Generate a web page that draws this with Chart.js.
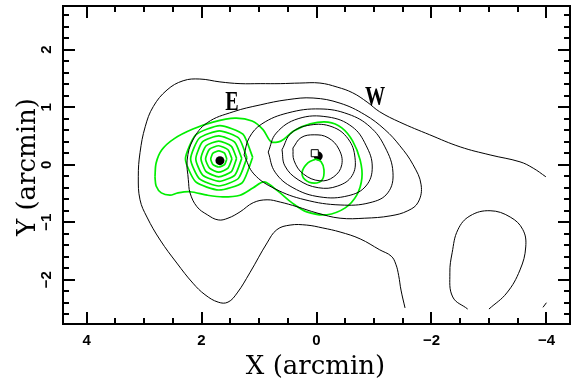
<!DOCTYPE html>
<html>
<head>
<meta charset="utf-8">
<script src="https://cdn.jsdelivr.net/npm/chart.js@4/dist/chart.umd.min.js"></script>
<style>
  html, body { margin: 0; padding: 0; background: #fff; }
  canvas { display: block; }
</style>
</head>
<body>
<canvas id="c" width="579" height="386"></canvas>
<script>
// Axis ranges and labelled ticks (arcmin)
const xRange = [-4.41, 4.41];
const yRange = [-2.77, 2.76];
const xTickLabels = [4, 2, 0, -2, -4];
const yTickLabels = [-2, -1, 0, 1, 2];

// Black contours: outermost open level
const blackOuter = [
  [-3.99,-0.21],[-3.77,-0.06],[-3.54,0.05],[-3.02,0.17],[-2.50,0.31],[-1.97,0.52],
  [-1.45,0.74],[-1.10,0.92],[-0.88,1.09],[-0.63,1.25],[-0.36,1.35],[-0.06,1.42],
  [0.29,1.42],[0.63,1.41],[0.98,1.41],[1.33,1.41],[1.68,1.44],[2.03,1.49],
  [2.32,1.46],[2.60,1.30],[2.84,1.01],[2.98,0.66],[3.07,0.21],[3.10,-0.21],
  [3.07,-0.61],[2.95,-0.91],[2.72,-1.31],[2.43,-1.71],[2.15,-2.06],[1.94,-2.26],
  [1.71,-2.39],[1.54,-2.39],[1.38,-2.23],[1.16,-1.88],[0.86,-1.36],[0.69,-1.13],
  [0.46,-1.05],[0.17,-1.05],[-0.11,-1.10],[-0.41,-1.17],[-0.76,-1.29],[-1.10,-1.48],
  [-1.30,-1.59],[-1.38,-1.73],[-1.43,-1.93],[-1.47,-2.18],[-1.54,-2.49]
];
// Level enclosing both E and W
const blackLevel2 = [
  [2.23,-0.26],[2.25,0.08],[2.15,0.43],[1.90,0.73],[1.45,0.92],[0.98,1.04],
  [0.51,1.13],[0.06,1.16],[-0.41,1.07],[-0.84,0.87],[-1.19,0.61],[-1.45,0.33],
  [-1.68,0.00],[-1.82,-0.35],[-1.77,-0.65],[-1.59,-0.80],[-1.28,-0.89],[-0.84,-0.93],
  [-0.41,-0.93],[-0.01,-0.84],[0.34,-0.73],[0.63,-0.65],[0.86,-0.61],[1.10,-0.66],
  [1.33,-0.82],[1.54,-0.93],[1.71,-0.96],[1.90,-0.87],[2.08,-0.73],[2.20,-0.49],
  [2.23,-0.26]
];
// Nested W levels
const blackLevel3 = [
  [1.26,0.17],[1.17,0.47],[0.95,0.71],[0.50,0.90],[-0.06,0.97],[-0.55,0.88],
  [-0.93,0.66],[-1.19,0.31],[-1.33,-0.13],[-1.24,-0.49],[-0.93,-0.66],[-0.41,-0.70],
  [0.20,-0.61],[0.72,-0.42],[1.09,-0.16],[1.26,0.17]
];
const blackLevel4 = [
  [0.84,0.22],[0.70,0.55],[0.32,0.80],[-0.20,0.83],[-0.62,0.66],[-0.86,0.34],
  [-0.97,-0.04],[-0.86,-0.37],[-0.55,-0.54],[-0.06,-0.56],[0.41,-0.40],[0.72,-0.13],
  [0.84,0.22]
];
const blackLevel5 = [
  [0.60,0.26],[0.44,0.55],[0.11,0.69],[-0.27,0.66],[-0.55,0.45],[-0.67,0.12],
  [-0.62,-0.19],[-0.37,-0.37],[-0.03,-0.40],[0.32,-0.26],[0.55,-0.02],[0.60,0.26]
];
const blackLevel6 = [
  [0.41,0.29],[0.27,0.47],[0.04,0.52],[-0.20,0.47],[-0.39,0.27],[-0.44,0.00],
  [-0.30,-0.21],[-0.06,-0.28],[0.23,-0.16],[0.39,0.07],[0.41,0.29]
];
// South-west loop and edge fragment
const blackLoopSW = [
  [-2.63,-2.51],[-2.37,-2.30],[-2.32,-1.88],[-2.36,-1.53],[-2.46,-1.13],[-2.67,-0.89],
  [-3.02,-0.80],[-3.37,-0.91],[-3.59,-1.13],[-3.64,-1.43],[-3.54,-1.83],[-3.31,-2.23],
  [-3.00,-2.51]
];
const blackEdge = [[-4.00,-2.40],[-3.94,-2.48]];

// Green contours around E
const greenOuter = [
  [2.81,-0.21],[2.79,0.03],[2.69,0.26],[2.48,0.45],[2.15,0.62],[1.80,0.74],
  [1.42,0.81],[1.12,0.76],[0.93,0.61],[0.79,0.40],[0.62,0.41],[0.39,0.59],
  [0.11,0.71],[-0.20,0.74],[-0.44,0.64],[-0.63,0.41],[-0.76,0.08],[-0.79,-0.23],
  [-0.70,-0.53],[-0.50,-0.75],[-0.18,-0.87],[0.17,-0.82],[0.43,-0.66],[0.67,-0.46],
  [0.91,-0.30],[1.10,-0.40],[1.33,-0.53],[1.63,-0.56],[1.90,-0.53],[2.20,-0.47],
  [2.41,-0.49],[2.55,-0.53],[2.70,-0.49],[2.79,-0.37],[2.81,-0.21]
];
const greenRing1 = [[1.56,0.10],[1.60,0.20],[1.70,0.24],[1.80,0.20],[1.84,0.10],[1.80,0.00],[1.70,-0.04],[1.60,0.00],[1.56,0.10]];
const greenRing2 = [[1.47,0.10],[1.54,0.26],[1.70,0.33],[1.86,0.27],[1.93,0.10],[1.86,-0.06],[1.70,-0.13],[1.54,-0.06],[1.47,0.10]];
const greenRing3 = [[1.39,0.11],[1.48,0.32],[1.70,0.41],[1.92,0.33],[2.01,0.11],[1.92,-0.12],[1.70,-0.21],[1.48,-0.12],[1.39,0.11]];
const greenRing4 = [[1.30,0.11],[1.42,0.39],[1.70,0.50],[1.98,0.40],[2.10,0.10],[1.98,-0.18],[1.69,-0.29],[1.42,-0.18],[1.30,0.11]];
const greenRing5 = [[1.21,0.12],[1.35,0.46],[1.69,0.59],[2.04,0.46],[2.19,0.10],[2.04,-0.24],[1.70,-0.37],[1.36,-0.24],[1.21,0.12]];
const greenRing6 = [[1.11,0.13],[1.28,0.53],[1.68,0.68],[2.10,0.52],[2.28,0.10],[2.10,-0.30],[1.70,-0.44],[1.29,-0.31],[1.11,0.13]];
// Small green loop next to W
const greenLoopW = [
  [0.01,0.10],[0.15,0.03],[0.25,-0.13],[0.20,-0.26],[0.04,-0.32],[-0.10,-0.26],
  [-0.13,-0.09],[-0.08,0.05],[0.01,0.10]
];

// Source positions
const sourceX = [1.68, -0.03];
const sourceY = [0.07, 0.15];
const boxX = [0.03];
const boxY = [0.20];
const sourceNames = ['E', 'W'];
const nameX = [1.47, -1.02];
const nameY = [1.07, 1.16];

const toPts = arr => arr.map(p => ({ x: p[0], y: p[1] }));
const BLACK = '#000000';
const GREEN = '#00ee00';

const lineSet = (pts, color, width, tension) => ({
  data: toPts(pts),
  showLine: true,
  borderColor: color,
  borderWidth: width,
  pointRadius: 0,
  pointHoverRadius: 0,
  fill: false,
  tension: tension
});

const datasets = [
  lineSet(blackOuter, BLACK, 1, 0.4),
  lineSet(blackLevel2, BLACK, 1, 0.4),
  lineSet(blackLevel3, BLACK, 1, 0.4),
  lineSet(blackLevel4, BLACK, 1, 0.4),
  lineSet(blackLevel5, BLACK, 1, 0.4),
  lineSet(blackLevel6, BLACK, 1, 0.4),
  lineSet(blackLoopSW, BLACK, 1, 0.4),
  lineSet(blackEdge, BLACK, 1, 0),
  lineSet(greenOuter, GREEN, 1.7, 0.3),
  lineSet(greenRing1, GREEN, 1.7, 0.2),
  lineSet(greenRing2, GREEN, 1.7, 0.2),
  lineSet(greenRing3, GREEN, 1.7, 0.2),
  lineSet(greenRing4, GREEN, 1.7, 0.2),
  lineSet(greenRing5, GREEN, 1.7, 0.2),
  lineSet(greenRing6, GREEN, 1.7, 0.2),
  lineSet(greenLoopW, GREEN, 1.7, 0.4),
  {
    data: boxX.map((v, i) => ({ x: v, y: boxY[i] })),
    showLine: false,
    pointStyle: 'rect',
    pointRadius: 5,
    backgroundColor: '#ffffff',
    borderColor: BLACK,
    borderWidth: 1
  },
  {
    data: sourceX.map((v, i) => ({ x: v, y: sourceY[i] })),
    showLine: false,
    pointStyle: 'circle',
    pointRadius: 4.5,
    backgroundColor: BLACK,
    borderColor: BLACK,
    borderWidth: 0
  }
];

const fmt = v => (v < 0 ? '\u2212' + Math.abs(v) : String(v));

// Frame, inward ticks, tick labels, axis titles and source names
const framePlugin = {
  id: 'frame',
  afterDatasetsDraw(chart) {
    const { ctx, chartArea: a } = chart;
    const x = chart.scales.x, y = chart.scales.y;
    ctx.save();
    ctx.strokeStyle = '#000';
    ctx.lineWidth = 2;
    ctx.strokeRect(a.left, a.top, a.right - a.left, a.bottom - a.top);

    ctx.beginPath();
    for (let i = -9; i <= 9; i++) {
      const v = i * 0.5;
      if (v < xRange[0] || v > xRange[1]) continue;
      const px = Math.round(x.getPixelForValue(v));
      const len = (i % 4 === 0) ? 12 : 6;
      ctx.moveTo(px, a.bottom); ctx.lineTo(px, a.bottom - len);
      ctx.moveTo(px, a.top); ctx.lineTo(px, a.top + len);
    }
    for (let i = -14; i <= 14; i++) {
      const v = i * 0.2;
      if (v < yRange[0] || v > yRange[1]) continue;
      const py = Math.round(y.getPixelForValue(v));
      const len = (i % 5 === 0) ? 12 : 6;
      ctx.moveTo(a.left, py); ctx.lineTo(a.left + len, py);
      ctx.moveTo(a.right, py); ctx.lineTo(a.right - len, py);
    }
    ctx.stroke();

    ctx.fillStyle = '#000';
    ctx.font = "bold 15px 'Liberation Sans', Arial, sans-serif";
    ctx.textAlign = 'center';
    ctx.textBaseline = 'middle';
    xTickLabels.forEach(v => {
      ctx.fillText(fmt(v), x.getPixelForValue(v), a.bottom + 17);
    });
    yTickLabels.forEach(v => {
      ctx.save();
      ctx.translate(a.left - 16, y.getPixelForValue(v));
      ctx.rotate(-Math.PI / 2);
      ctx.fillText(fmt(v), 0, 0);
      ctx.restore();
    });

    ctx.font = "26px 'DejaVu Serif', serif";
    ctx.fillText('X (arcmin)', (a.left + a.right) / 2 - 1, a.bottom + 43);
    ctx.save();
    ctx.translate(a.left - 35, (a.top + a.bottom) / 2 + 2);
    ctx.rotate(-Math.PI / 2);
    ctx.fillText('Y (arcmin)', 0, 0);
    ctx.restore();

    ctx.font = "bold 28px 'Liberation Serif', serif";
    sourceNames.forEach((s, i) => {
      ctx.save();
      ctx.translate(x.getPixelForValue(nameX[i]), y.getPixelForValue(nameY[i]));
      ctx.scale(0.72, 1);
      ctx.fillText(s, 0, 0);
      ctx.restore();
    });
    ctx.restore();
  }
};

new Chart(document.getElementById('c'), {
  type: 'scatter',
  data: { datasets },
  options: {
    responsive: false,
    animation: false,
    devicePixelRatio: 1,
    layout: { padding: { left: 63, right: 9, top: 6, bottom: 62 } },
    plugins: { legend: { display: false }, tooltip: { enabled: false } },
    scales: {
      x: { type: 'linear', reverse: true, min: xRange[0], max: xRange[1], display: false },
      y: { type: 'linear', min: yRange[0], max: yRange[1], display: false }
    }
  },
  plugins: [framePlugin]
});
</script>
</body>
</html>
